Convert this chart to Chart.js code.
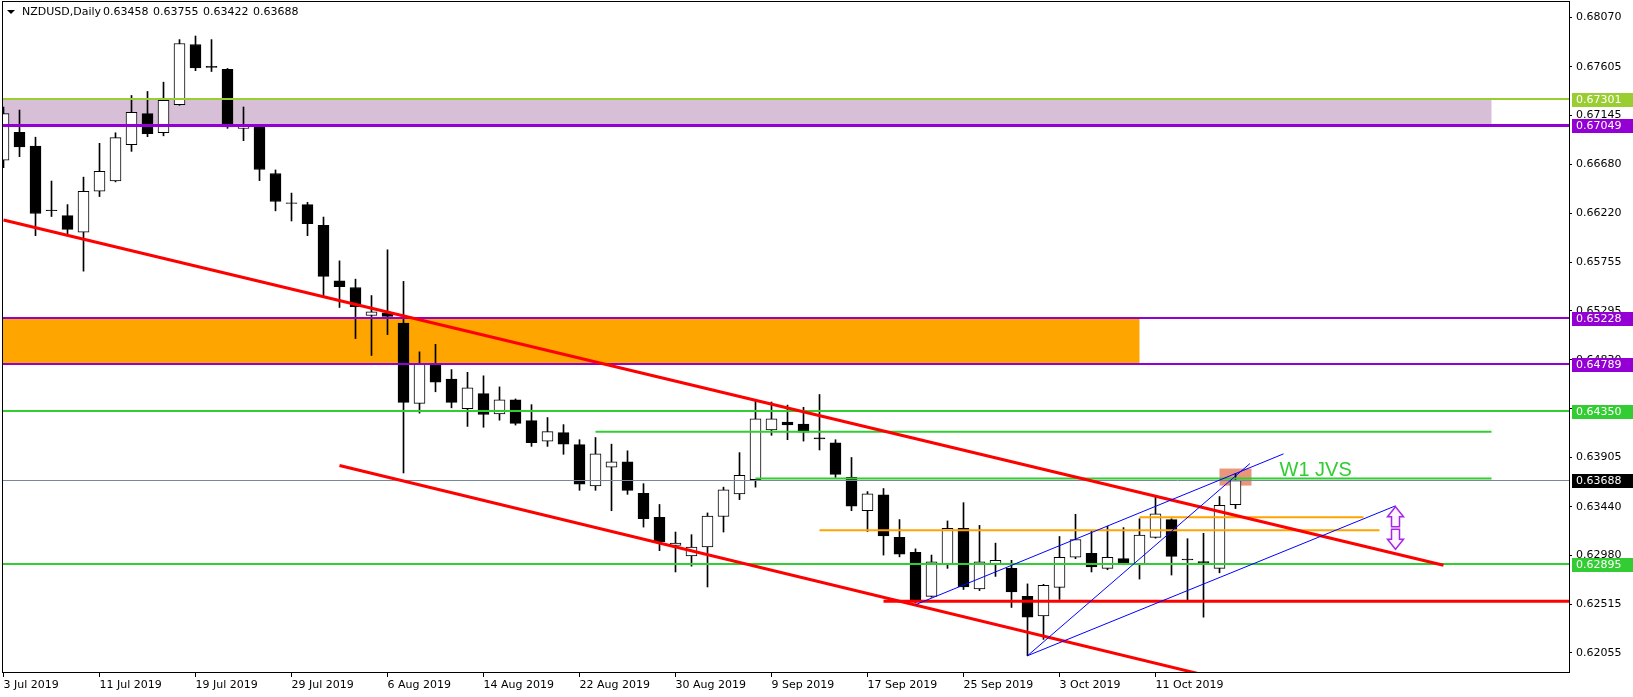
<!DOCTYPE html>
<html>
<head>
<meta charset="utf-8">
<script src="https://cdn.jsdelivr.net/npm/chart.js@4.4.1/dist/chart.umd.min.js"></script>
<style>
    html, body { margin: 0; padding: 0; background: #ffffff; }
    #wrap { width: 1633px; height: 697px; }
</style>
</head>
<body>
<div id="wrap"><canvas id="chart" width="1633" height="697"></canvas></div>
<script>
// NZDUSD daily candles, 3 Jul 2019 - 18 Oct 2019
const dates = [
    "3 Jul 2019", "4 Jul 2019", "5 Jul 2019", "8 Jul 2019", "9 Jul 2019", "10 Jul 2019",
    "11 Jul 2019", "12 Jul 2019", "15 Jul 2019", "16 Jul 2019", "17 Jul 2019", "18 Jul 2019",
    "19 Jul 2019", "22 Jul 2019", "23 Jul 2019", "24 Jul 2019", "25 Jul 2019", "26 Jul 2019",
    "29 Jul 2019", "30 Jul 2019", "31 Jul 2019", "1 Aug 2019", "2 Aug 2019", "5 Aug 2019",
    "6 Aug 2019", "7 Aug 2019", "8 Aug 2019", "9 Aug 2019", "12 Aug 2019", "13 Aug 2019",
    "14 Aug 2019", "15 Aug 2019", "16 Aug 2019", "19 Aug 2019", "20 Aug 2019", "21 Aug 2019",
    "22 Aug 2019", "23 Aug 2019", "26 Aug 2019", "27 Aug 2019", "28 Aug 2019", "29 Aug 2019",
    "30 Aug 2019", "2 Sep 2019", "3 Sep 2019", "4 Sep 2019", "5 Sep 2019", "6 Sep 2019",
    "9 Sep 2019", "10 Sep 2019", "11 Sep 2019", "12 Sep 2019", "13 Sep 2019", "16 Sep 2019",
    "17 Sep 2019", "18 Sep 2019", "19 Sep 2019", "20 Sep 2019", "23 Sep 2019", "24 Sep 2019",
    "25 Sep 2019", "26 Sep 2019", "27 Sep 2019", "30 Sep 2019", "1 Oct 2019", "2 Oct 2019",
    "3 Oct 2019", "4 Oct 2019", "7 Oct 2019", "8 Oct 2019", "9 Oct 2019", "10 Oct 2019",
    "11 Oct 2019", "14 Oct 2019", "15 Oct 2019", "16 Oct 2019", "17 Oct 2019", "18 Oct 2019"
];

const opens = [
    0.66720, 0.66985, 0.66854, 0.66248, 0.66195, 0.66040, 0.66426, 0.66523, 0.66867, 0.67161,
    0.66980, 0.67245, 0.67816, 0.67610, 0.67581, 0.67022, 0.67035, 0.66594, 0.66317, 0.66300,
    0.66103, 0.65578, 0.65515, 0.65250, 0.65275, 0.65179, 0.64418, 0.64780, 0.64649, 0.64368,
    0.64511, 0.64318, 0.64452, 0.64255, 0.64061, 0.64141, 0.64028, 0.63637, 0.63814, 0.63864,
    0.63566, 0.63339, 0.63074, 0.62974, 0.63058, 0.63347, 0.63562, 0.63696, 0.64166, 0.64242,
    0.64222, 0.64091, 0.64045, 0.63717, 0.63402, 0.63553, 0.63150, 0.63007, 0.62591, 0.62898,
    0.63234, 0.62661, 0.62898, 0.62856, 0.62591, 0.62407, 0.62676, 0.62961, 0.62999, 0.62856,
    0.62948, 0.62898, 0.63150, 0.63318, 0.62944, 0.62920, 0.62856, 0.63458
];

const highs = [
    0.67224, 0.67195, 0.66938, 0.66523, 0.66300, 0.66560, 0.66880, 0.66980, 0.67333, 0.67371,
    0.67459, 0.67862, 0.67896, 0.67862, 0.67589, 0.67224, 0.67043, 0.66628, 0.66409, 0.66321,
    0.66182, 0.65767, 0.65594, 0.65439, 0.65872, 0.65573, 0.64906, 0.64977, 0.64738, 0.64712,
    0.64679, 0.64574, 0.64460, 0.64406, 0.64284, 0.64217, 0.64074, 0.64095, 0.64032, 0.63969,
    0.63658, 0.63461, 0.63200, 0.63175, 0.63381, 0.63625, 0.63952, 0.64452, 0.64431, 0.64402,
    0.64381, 0.64502, 0.64074, 0.63906, 0.63583, 0.63612, 0.63318, 0.63041, 0.62982, 0.63305,
    0.63478, 0.63263, 0.63095, 0.62932, 0.62709, 0.62705, 0.63158, 0.63368, 0.63209, 0.63255,
    0.63242, 0.63326, 0.63536, 0.63326, 0.63137, 0.63188, 0.63536, 0.63755
];

const lows = [
    0.66649, 0.66754, 0.66006, 0.66187, 0.66019, 0.65670, 0.66376, 0.66515, 0.66804, 0.66943,
    0.66951, 0.67240, 0.67568, 0.67560, 0.67022, 0.66905, 0.66527, 0.66241, 0.66145, 0.66006,
    0.65426, 0.65326, 0.65032, 0.64872, 0.65069, 0.63759, 0.64326, 0.64528, 0.64376, 0.64200,
    0.64192, 0.64259, 0.64213, 0.64011, 0.64011, 0.63936, 0.63595, 0.63595, 0.63402, 0.63557,
    0.63247, 0.63024, 0.62822, 0.62877, 0.62680, 0.63200, 0.63507, 0.63625, 0.64116, 0.64074,
    0.64061, 0.63977, 0.63717, 0.63402, 0.63205, 0.62982, 0.62965, 0.62528, 0.62583, 0.62856,
    0.62656, 0.62646, 0.62780, 0.62486, 0.62029, 0.62184, 0.62562, 0.62948, 0.62822, 0.62843,
    0.62890, 0.62755, 0.63142, 0.62793, 0.62554, 0.62394, 0.62814, 0.63422
];

const closes = [
    0.67161, 0.66846, 0.66216, 0.66242, 0.66065, 0.66426, 0.66615, 0.66934, 0.67174, 0.66972,
    0.67287, 0.67825, 0.67594, 0.67598, 0.67035, 0.67039, 0.66632, 0.66329, 0.66310, 0.66119,
    0.65620, 0.65523, 0.65334, 0.65284, 0.65242, 0.64427, 0.64788, 0.64620, 0.64427, 0.64565,
    0.64313, 0.64452, 0.64229, 0.64045, 0.64150, 0.64032, 0.63654, 0.63940, 0.63864, 0.63595,
    0.63326, 0.63108, 0.63095, 0.63058, 0.63352, 0.63599, 0.63738, 0.64271, 0.64271, 0.64213,
    0.64145, 0.64082, 0.63746, 0.63444, 0.63562, 0.63163, 0.62990, 0.62541, 0.62919, 0.63234,
    0.62680, 0.62919, 0.62932, 0.62633, 0.62394, 0.62696, 0.62961, 0.63129, 0.62869, 0.62961,
    0.62898, 0.63171, 0.63373, 0.62969, 0.62936, 0.62910, 0.63452, 0.63688
];

// axis ticks as shown by the terminal
const priceTicks = [
    0.68070, 0.67605, 0.67145, 0.66680, 0.66220, 0.65755, 0.65295,
    0.64830, 0.64370, 0.63905, 0.63440, 0.62980, 0.62515, 0.62055
];
const dateTickIndex = [0, 6, 12, 18, 24, 30, 36, 42, 48, 54, 60, 66, 72];

const headerSymbol = "NZDUSD,Daily";
const headerPrices = ["0.63458", "0.63755", "0.63422", "0.63688"];

// drawn objects, in bar index / price units
const zones = [
    { from: -1, to: 93, top: 0.67301, bottom: 0.67049, color: "#D8BFD8" },
    { from: -1, to: 71, top: 0.65228, bottom: 0.64789, color: "#FFA500" },
    { from: 76, to: 78, top: 0.63801, bottom: 0.63640, color: "#E9967A" }
];

const levels = [
    { price: 0.67301, color: "#9ACD32", width: 2 },
    { price: 0.67049, color: "#9400D3", width: 3 },
    { price: 0.65228, color: "#9400D3", width: 2 },
    { price: 0.64789, color: "#9400D3", width: 2 },
    { price: 0.64350, color: "#32CD32", width: 2 },
    { price: 0.63688, color: "#778899", width: 1, box: "#000000" },
    { price: 0.62895, color: "#32CD32", width: 2 }
];

const segments = [
    { from: [37, 0.64150], to: [93, 0.64150], color: "#32CD32", width: 2 },
    { from: [47, 0.63706], to: [93, 0.63706], color: "#32CD32", width: 2 },
    { from: [71, 0.63339], to: [85, 0.63339], color: "#FFA500", width: 2 },
    { from: [51, 0.63217], to: [86, 0.63217], color: "#FFA500", width: 2 },
    { from: [55, 0.62545], to: [110, 0.62545], color: "#FF0000", width: 3 },
    { from: [0, 0.66154], to: [90, 0.62885], color: "#FF0000", width: 3 },
    { from: [21, 0.63830], to: [75, 0.61848], color: "#FF0000", width: 3 },
    { from: [64, 0.62029], to: [77.9, 0.63848], color: "#0000FF", width: 1 },
    { from: [64, 0.62029], to: [87, 0.63448], color: "#0000FF", width: 1 },
    { from: [57, 0.62512], to: [80, 0.63940], color: "#0000FF", width: 1 }
];

const arrowUp = [87, 0.63440];
const arrowDown = [87, 0.63037];
const noteText = { text: "W1 JVS", at: [79.75, 0.63735] };

const FONT = "'DejaVu Sans', sans-serif";

const bodyData = dates.map(function (d, i) {
    return { x: i, y: [opens[i], closes[i]] };
});
const wickData = dates.map(function (d, i) {
    return { x: i, y: [lows[i], highs[i]] };
});

function drawArrow(ctx, cx, tipY, dir) {
    // dir = 1 points up, -1 points down
    const pts = [
        [0, 0], [8, 10], [4, 10], [4, 20], [-4, 20], [-4, 10], [-8, 10]
    ];
    ctx.beginPath();
    pts.forEach(function (p, i) {
        const px = cx + p[0];
        const py = tipY + p[1] * dir;
        if (i === 0) ctx.moveTo(px, py); else ctx.lineTo(px, py);
    });
    ctx.closePath();
    ctx.fillStyle = "#FFF4FF";
    ctx.fill();
    ctx.lineWidth = 1.5;
    ctx.strokeStyle = "#A526E8";
    ctx.stroke();
}

// terminal hides the grid price when a price label sits on it
function hiddenByLabel(v) {
    return levels.some(function (l) { return Math.abs(l.price - v) < 0.0003; });
}

const overlayPlugin = {
    id: "overlay",
    beforeDatasetsDraw(chart) {
        const { ctx, chartArea: a, scales: { x, y } } = chart;
        ctx.save();
        ctx.beginPath();
        ctx.rect(a.left, a.top, a.right - a.left, a.bottom - a.top);
        ctx.clip();
        zones.forEach(function (z) {
            const x1 = x.getPixelForValue(z.from);
            const x2 = x.getPixelForValue(z.to);
            const y1 = y.getPixelForValue(z.top);
            const y2 = y.getPixelForValue(z.bottom);
            ctx.fillStyle = z.color;
            ctx.fillRect(x1, y1, x2 - x1, y2 - y1);
        });
        ctx.restore();
    },
    afterDatasetsDraw(chart) {
        const { ctx, chartArea: a, scales: { x, y } } = chart;
        ctx.save();
        ctx.beginPath();
        ctx.rect(a.left, a.top, a.right - a.left, a.bottom - a.top);
        ctx.clip();

        levels.forEach(function (l) {
            let py = y.getPixelForValue(l.price);
            if (l.width % 2 === 1) py = Math.round(py - 0.5) + 0.5; else py = Math.round(py);
            ctx.beginPath();
            ctx.moveTo(a.left, py);
            ctx.lineTo(a.right, py);
            ctx.lineWidth = l.width;
            ctx.strokeStyle = l.color;
            ctx.stroke();
        });

        segments.forEach(function (s) {
            ctx.beginPath();
            ctx.moveTo(x.getPixelForValue(s.from[0]), y.getPixelForValue(s.from[1]));
            ctx.lineTo(x.getPixelForValue(s.to[0]), y.getPixelForValue(s.to[1]));
            ctx.lineWidth = s.width;
            ctx.strokeStyle = s.color;
            ctx.stroke();
        });

        drawArrow(ctx, x.getPixelForValue(arrowUp[0]), y.getPixelForValue(arrowUp[1]), 1);
        drawArrow(ctx, x.getPixelForValue(arrowDown[0]), y.getPixelForValue(arrowDown[1]), -1);

        ctx.font = "20px 'Liberation Sans', Arial, sans-serif";
        ctx.fillStyle = "#32CD32";
        ctx.textAlign = "left";
        ctx.textBaseline = "alphabetic";
        ctx.fillText(noteText.text, x.getPixelForValue(noteText.at[0]), y.getPixelForValue(noteText.at[1]));
        ctx.restore();
    },
    afterDraw(chart) {
        const { ctx, chartArea: a, scales: { y } } = chart;
        ctx.save();

        // frame
        ctx.strokeStyle = "#000000";
        ctx.lineWidth = 1;
        ctx.strokeRect(Math.round(a.left) - 0.5, Math.round(a.top) - 0.5,
            Math.round(a.right - a.left) + 1, Math.round(a.bottom - a.top) + 1);

        // header
        ctx.fillStyle = "#000000";
        ctx.beginPath();
        ctx.moveTo(7, 10);
        ctx.lineTo(15, 10);
        ctx.lineTo(11, 14);
        ctx.closePath();
        ctx.fill();
        ctx.font = "11px " + FONT;
        ctx.textAlign = "left";
        ctx.textBaseline = "middle";
        ctx.fillText(headerSymbol, 22, 12);
        headerPrices.forEach(function (p, i) {
            ctx.fillText(p, 103 + i * 50, 12);
        });

        // price boxes on the axis
        levels.forEach(function (l) {
            const py = Math.round(y.getPixelForValue(l.price));
            ctx.fillStyle = l.box || l.color;
            ctx.fillRect(a.right + 3, py - 6, 1633 - a.right - 3, 14);
            ctx.fillStyle = "#ffffff";
            ctx.fillText(l.price.toFixed(5), a.right + 7, py + 1);
        });
        ctx.restore();
    }
};

new Chart(document.getElementById("chart"), {
    type: "bar",
    data: {
        datasets: [
            {
                label: "body",
                data: bodyData,
                grouped: false,
                barThickness: 11,
                borderWidth: 1,
                borderSkipped: false,
                borderColor: "#000000",
                backgroundColor: function (c) {
                    const i = c.dataIndex;
                    return closes[i] > opens[i] ? "#ffffff" : "#000000";
                }
            },
            {
                label: "wick",
                data: wickData,
                grouped: false,
                barThickness: 1,
                borderWidth: 0,
                backgroundColor: "#000000"
            }
        ]
    },
    options: {
        responsive: false,
        animation: false,
        events: [],
        layout: { padding: { left: 3, top: 2, right: 0, bottom: 0 } },
        plugins: {
            legend: { display: false },
            tooltip: { enabled: false }
        },
        scales: {
            x: {
                type: "linear",
                min: -0.03125,
                max: 97.84375,
                offset: false,
                afterBuildTicks: function (scale) {
                    scale.ticks = dateTickIndex.map(function (v) { return { value: v }; });
                },
                afterFit: function (scale) {
                    scale.height = 25;
                    scale.paddingLeft = 0;
                    scale.paddingRight = 0;
                },
                border: { display: false },
                grid: {
                    offset: false,
                    drawOnChartArea: false,
                    drawTicks: true,
                    tickLength: 5,
                    color: "#000000"
                },
                ticks: {
                    align: "start",
                    padding: 2,
                    autoSkip: false,
                    maxRotation: 0,
                    minRotation: 0,
                    color: "#000000",
                    font: { family: FONT, size: 11 },
                    callback: function (v) { return dates[v]; }
                }
            },
            y: {
                position: "right",
                min: 0.61875,
                max: 0.68218,
                afterBuildTicks: function (scale) {
                    scale.ticks = priceTicks.map(function (v) { return { value: v }; });
                },
                afterFit: function (scale) {
                    scale.width = 64;
                    scale.paddingTop = 0;
                    scale.paddingBottom = 0;
                },
                border: { display: false },
                grid: {
                    drawOnChartArea: false,
                    drawTicks: true,
                    tickLength: 3,
                    color: "#000000"
                },
                ticks: {
                    padding: 4,
                    autoSkip: false,
                    color: "#000000",
                    font: { family: FONT, size: 11 },
                    callback: function (v) { return hiddenByLabel(v) ? "" : v.toFixed(5); }
                }
            }
        }
    },
    plugins: [overlayPlugin]
});
</script>
</body>
</html>
